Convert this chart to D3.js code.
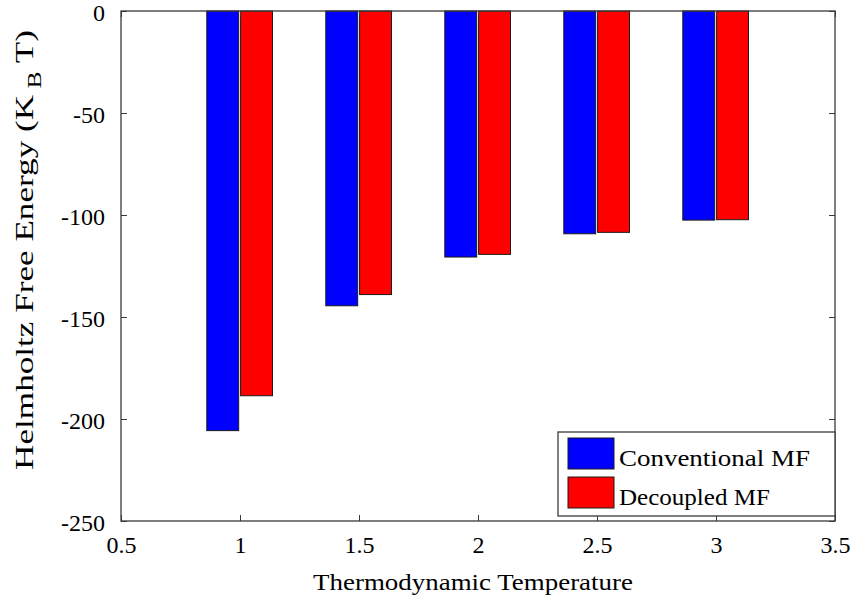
<!DOCTYPE html>
<html>
<head>
<meta charset="utf-8">
<script src="https://cdn.jsdelivr.net/npm/d3@7"></script>
<style>
  html, body { margin: 0; padding: 0; background: #fff; }
  svg { display: block; }
  svg text { font-family: "Liberation Serif", "Times New Roman", "DejaVu Serif", serif !important; fill: #000; }
</style>
</head>
<body>
<svg id="chart" width="851" height="605"></svg>
<script>
const temperatures = [1, 1.5, 2, 2.5, 3];
const conventionalMF = [-205.7, -144.5, -120.6, -109.2, -102.5];
const decoupledMF = [-188.6, -139.0, -119.3, -108.5, -102.3];
const seriesNames = ["Conventional MF", "Decoupled MF"];
const seriesColors = ["#0000ff", "#ff0000"];
const xTicks = [0.5, 1, 1.5, 2, 2.5, 3, 3.5];
const yTicks = [0, -50, -100, -150, -200, -250];

(function () {
const svg = d3.select("#chart");
const mLeft = 121, mRight = 835, mTop = 11, mBottom = 521;

const x = d3.scaleLinear().domain([0.5, 3.5]).range([mLeft, mRight]);
const y = d3.scaleLinear().domain([-250, 0]).range([mBottom, mTop]);

const barW = 0.134;
const offsets = [-0.0725, 0.0695];
const series = [conventionalMF, decoupledMF];

series.forEach((vals, si) => {
  svg.append("g").selectAll("rect")
    .data(vals.map((v, i) => ({ t: temperatures[i], v })))
    .join("rect")
    .attr("x", d => x(d.t + offsets[si] - barW / 2))
    .attr("width", d => x(d.t + offsets[si] + barW / 2) - x(d.t + offsets[si] - barW / 2))
    .attr("y", d => y(0))
    .attr("height", d => y(d.v) - y(0))
    .attr("fill", seriesColors[si])
    .attr("stroke", "#1a1a1a")
    .attr("stroke-width", 1);
});

const axColor = "#3a3a3a";
const tickLen = 6;
const fs = 24;
const fmt = d => String(d);

function stretch(sel, target, baseTransform) {
  const w = sel.node().getBBox().width;
  const s = target / w;
  sel.attr("transform", `${baseTransform} scale(${s},1)`);
}

const gxb = svg.append("g").attr("transform", `translate(0,${mBottom})`)
  .call(d3.axisBottom(x).tickValues(xTicks).tickSize(-tickLen).tickFormat(fmt));
gxb.select(".domain").remove();
gxb.selectAll("line").attr("stroke", axColor);
gxb.selectAll(".tick text").attr("font-size", fs).attr("y", 32).attr("dy", 0)
  .attr("x", 0).attr("text-anchor", "middle");

const gxt = svg.append("g").attr("transform", `translate(0,${mTop})`)
  .call(d3.axisTop(x).tickValues(xTicks).tickSize(-tickLen).tickFormat(""));
gxt.select(".domain").remove();
gxt.selectAll("line").attr("stroke", axColor);

const gyl = svg.append("g").attr("transform", `translate(${mLeft},0)`)
  .call(d3.axisLeft(y).tickValues(yTicks).tickSize(-tickLen).tickFormat(fmt));
gyl.select(".domain").remove();
gyl.selectAll("line").attr("stroke", axColor);
gyl.selectAll("text").attr("font-size", fs).attr("x", -16).attr("dy", 9);

const gyr = svg.append("g").attr("transform", `translate(${mRight},0)`)
  .call(d3.axisRight(y).tickValues(yTicks).tickSize(-tickLen).tickFormat(""));
gyr.select(".domain").remove();
gyr.selectAll("line").attr("stroke", axColor);

svg.append("rect").attr("x", mLeft).attr("y", mTop)
  .attr("width", mRight - mLeft).attr("height", mBottom - mTop)
  .attr("fill", "none").attr("stroke", axColor).attr("stroke-width", 1.3);

const xl = svg.append("text").attr("x", 0).attr("y", 0)
  .attr("text-anchor", "middle").attr("font-size", 23)
  .text("Thermodynamic Temperature");
stretch(xl, 320, "translate(473,590)");

const yl = svg.append("text")
  .attr("text-anchor", "middle").attr("font-size", 26);
yl.append("tspan").text("Helmholtz Free Energy (K");
yl.append("tspan").attr("dy", 8).attr("font-size", 19).text(" B");
yl.append("tspan").attr("dy", -8).text(" T)");
stretch(yl, 440, "translate(33,250) rotate(-90)");

const lg = svg.append("g");
lg.append("rect").attr("x", 558).attr("y", 432).attr("width", 277).attr("height", 84)
  .attr("fill", "#fff").attr("stroke", axColor).attr("stroke-width", 1.3);
const legendWidths = [191, 151];
seriesNames.forEach((name, i) => {
  lg.append("rect").attr("x", 568).attr("y", 438 + i * 39).attr("width", 46).attr("height", 31)
    .attr("fill", seriesColors[i]).attr("stroke", "#1a1a1a").attr("stroke-width", 1);
  const t = lg.append("text").attr("x", 0).attr("y", 0).attr("font-size", 24).text(name);
  stretch(t, legendWidths[i], `translate(619,${466 + i * 39})`);
});
})();
</script>
</body>
</html>
